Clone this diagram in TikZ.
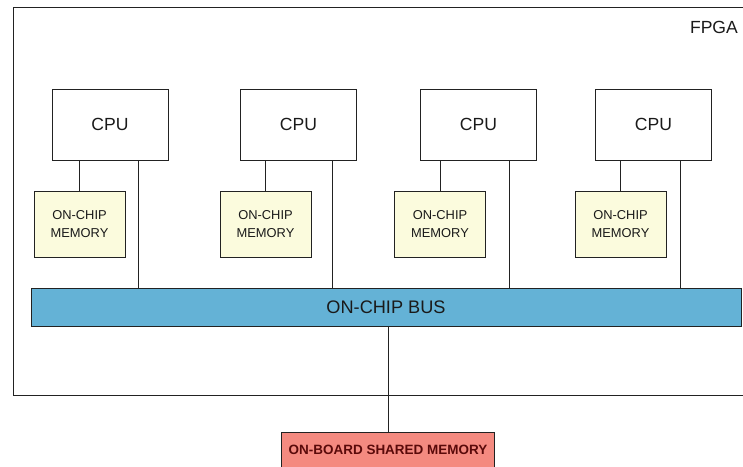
\documentclass[tikz,border=0pt]{standalone}
\usepackage{fontspec}
\setmainfont{Liberation Sans}
\usetikzlibrary{positioning, calc}
\definecolor{memFill}{HTML}{FBFBDD}
\definecolor{busFill}{HTML}{64B2D6}
\definecolor{shmemFill}{HTML}{F48A80}
\definecolor{shmemText}{HTML}{5A0A0A}
\definecolor{lineMain}{HTML}{222222}
\definecolor{textMain}{HTML}{1A1A1A}
\tikzset{
  fpgabox/.style={draw=lineMain, line width=0.8pt, anchor=north west, inner sep=0pt},
  cpubox/.style={draw=lineMain, fill=white, line width=0.7pt,
    minimum width=3.48cm, minimum height=2.13cm,
    font=\fontsize{15}{17}\selectfont, text=textMain},
  membox/.style={draw=lineMain, fill=memFill, line width=0.7pt,
    minimum width=2.73cm, minimum height=1.98cm, align=center,
    font=\fontsize{11}{15}\selectfont, text=textMain},
  busbox/.style={draw=lineMain, fill=busFill, line width=0.7pt,
    minimum width=21.3cm, minimum height=1.14cm,
    font=\fontsize{15.5}{17}\selectfont, text=textMain},
  shmembox/.style={draw=lineMain, fill=shmemFill, line width=0.7pt,
    minimum width=6.39cm, minimum height=1.08cm,
    font=\fontsize{11.5}{13}\selectfont\bfseries, text=shmemText},
  wire/.style={draw=lineMain, line width=0.6pt},
}

\begin{document}
\begin{tikzpicture}[x=0.03cm, y=-0.03cm]
  \useasboundingbox (0,0) rectangle (743,466);
  \clip (0,0) rectangle (743,466);

  % === FPGA frame ===
  \node[fpgabox, minimum width=22.41cm, minimum height=11.64cm] (fpga) at (13,7) {};
  \node[anchor=east, font=\fontsize{15}{17}\selectfont, text=textMain] (fpgalbl) at (742,27) {FPGA};

  % === CPUs and their on-chip memories ===
  \foreach \i/\cx/\mx/\tx in {1/110/79.5/138, 2/298.5/265.5/332, 3/478.5/440/509, 4/653.5/620.5/680} {
    \node[cpubox] (cpu\i) at (\cx,124.5) {CPU};
    \node[membox] (mem\i) at (\mx,224) {ON-CHIP\\MEMORY};
    \coordinate (tap\i) at (\tx,0);
  }

  % === Bus ===
  \node[busbox] (bus) at (386,307) {ON-CHIP BUS};

  % === Off-chip memory ===
  \node[shmembox] (shmem) at (388,450) {ON-BOARD SHARED MEMORY};

  % CPU -> memory, CPU -> bus
  \foreach \i in {1,2,3,4} {
    \draw[wire] (mem\i.north) -- (mem\i.north |- cpu\i.south);
    \draw[wire] (cpu\i.south -| tap\i) -- (bus.north -| tap\i);
  }

  % Bus -> shared memory
  \draw[wire] (bus.south -| shmem.north) -- (shmem.north);

\end{tikzpicture}
\end{document}
